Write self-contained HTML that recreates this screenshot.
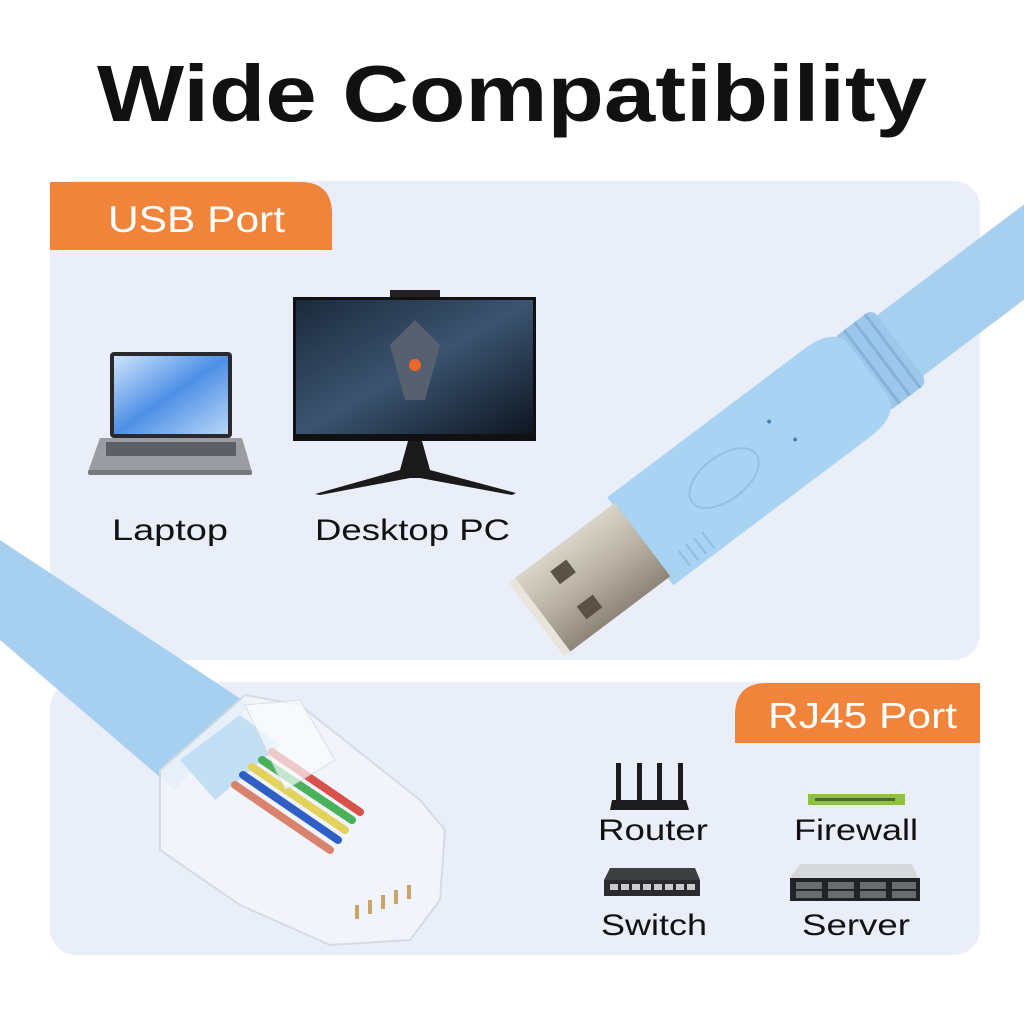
<!DOCTYPE html>
<html><head><meta charset="utf-8"><style>
html,body{margin:0;padding:0;background:#fff}
svg{display:block}
text{font-family:"Liberation Sans","DejaVu Sans",sans-serif}
</style></head><body>
<svg width="1024" height="1024" viewBox="0 0 1024 1024" xmlns="http://www.w3.org/2000/svg">
<defs>
<linearGradient id="metal" x1="0" y1="0" x2="0" y2="1">
<stop offset="0" stop-color="#d9d4c8"/><stop offset="0.5" stop-color="#b9b1a2"/><stop offset="1" stop-color="#8d8577"/>
</linearGradient>
<linearGradient id="scr" x1="0" y1="0" x2="1" y2="1">
<stop offset="0" stop-color="#1b2a3c"/><stop offset="0.5" stop-color="#3b5470"/><stop offset="1" stop-color="#0e1622"/>
</linearGradient>
<linearGradient id="lap" x1="0" y1="0" x2="1" y2="1">
<stop offset="0" stop-color="#cfe3fb"/><stop offset="0.5" stop-color="#4d8fe6"/><stop offset="1" stop-color="#b8d6f7"/>
</linearGradient>
</defs>
<rect width="1024" height="1024" fill="#fff"/>
<text x="512" y="121" text-anchor="middle" font-size="80" font-weight="bold" fill="#111" textLength="830" lengthAdjust="spacingAndGlyphs">Wide Compatibility</text>

<rect x="50" y="181" width="930" height="479" rx="26" fill="#eaeef8"/>
<rect x="50" y="682" width="930" height="273" rx="26" fill="#eaeef8"/>
<path d="M50 182 H300 Q332 182 332 214 V250 H50 Z" fill="#f0843a"/>
<text x="108" y="232" font-size="37" fill="#fff" textLength="177" lengthAdjust="spacingAndGlyphs">USB Port</text>
<path d="M980 683 V743 H735 V715 Q735 683 767 683 Z" fill="#f0843a"/>
<text x="768" y="728" font-size="36" fill="#fff" textLength="189" lengthAdjust="spacingAndGlyphs">RJ45 Port</text>

<rect x="110" y="352" width="122" height="86" rx="4" fill="#2a2a2e"/>
<rect x="114" y="356" width="114" height="78" fill="url(#lap)"/>
<path d="M100 438 H242 L252 472 H88 Z" fill="#9a9ca2"/>
<rect x="106" y="442" width="130" height="14" fill="#5d5f66"/>
<rect x="88" y="470" width="164" height="5" rx="2" fill="#76787e"/>
<text x="112" y="540" font-size="30" fill="#111" textLength="116" lengthAdjust="spacingAndGlyphs">Laptop</text>

<rect x="390" y="290" width="50" height="8" fill="#222"/>
<rect x="293" y="297" width="243" height="144" fill="#111"/>
<rect x="296" y="300" width="237" height="134" fill="url(#scr)"/>
<path d="M415 320 L440 345 L425 400 L405 400 L390 345 Z" fill="#57606e"/>
<circle cx="415" cy="365" r="6" fill="#e8692a"/>
<path d="M408 441 L400 470 L315 494 L320 495 L410 478 L420 478 L512 495 L516 493 L430 470 L422 441 Z" fill="#1a1a1a"/>
<text x="315" y="540" font-size="30" fill="#111" textLength="195" lengthAdjust="spacingAndGlyphs">Desktop PC</text>

<g transform="translate(772,442) rotate(-37)">
<rect x="150" y="-38" width="300" height="76" fill="#a6cff0"/>
<rect x="110" y="-46" width="50" height="92" rx="8" fill="#9cc7ea"/>
<line x1="125" y1="-46" x2="125" y2="46" stroke="#84b2d8" stroke-width="3"/>
<line x1="138" y1="-46" x2="138" y2="46" stroke="#84b2d8" stroke-width="3"/>
<line x1="151" y1="-46" x2="151" y2="46" stroke="#84b2d8" stroke-width="3"/>
<path d="M-165 -55 H80 Q120 -55 120 -30 V30 Q120 55 80 55 H-165 Z" fill="#a9d3f3"/>
<ellipse cx="-60" cy="0" rx="40" ry="22" fill="none" stroke="#93bfe3" stroke-width="2"/>
<circle cx="10" cy="-18" r="2" fill="#4a7fb0"/><circle cx="20" cy="12" r="2" fill="#4a7fb0"/>
<g stroke="#8fbde3" stroke-width="2">
<line x1="-140" y1="30" x2="-140" y2="50"/><line x1="-130" y1="30" x2="-130" y2="50"/><line x1="-120" y1="30" x2="-120" y2="50"/><line x1="-110" y1="30" x2="-110" y2="50"/>
</g>
<rect x="-290" y="-46" width="128" height="92" fill="url(#metal)"/>
<rect x="-295" y="-46" width="8" height="92" fill="#e8e4dc"/>
<rect x="-255" y="-30" width="20" height="16" fill="#5a5246"/>
<rect x="-255" y="14" width="20" height="16" fill="#5a5246"/>
</g>

<path d="M0 540 L250 705 L175 790 L0 640 Z" fill="#a6cff0"/>
<path d="M160 770 L245 695 L300 705 L420 800 L445 830 L440 900 L410 940 L330 945 L240 905 L160 850 Z" fill="#f3f6fb" opacity="0.85" stroke="#d2d8e2" stroke-width="2"/>
<path d="M180 760 L240 715 L280 745 L215 800 Z" fill="#b8daf3" opacity="0.8"/>
<g stroke-width="8" stroke-linecap="round" fill="none">
<path d="M235 785 L330 850" stroke="#d9826e"/>
<path d="M243 775 L338 840" stroke="#2f5fc4"/>
<path d="M252 767 L345 830" stroke="#e3d35a"/>
<path d="M262 760 L352 820" stroke="#49b15a"/>
<path d="M272 752 L360 812" stroke="#d8514a"/>
</g>
<path d="M245 705 L300 700 L335 760 L285 790 Z" fill="#fafcff" opacity="0.7" stroke="#cfd6e0"/>
<g fill="#c9a46a"><rect x="355" y="905" width="4" height="14"/><rect x="368" y="900" width="4" height="14"/><rect x="381" y="895" width="4" height="14"/><rect x="394" y="890" width="4" height="14"/><rect x="407" y="885" width="4" height="14"/></g>

<g fill="#1c1c1e">
<rect x="616" y="763" width="5" height="38"/><rect x="637" y="763" width="5" height="38"/><rect x="657" y="763" width="5" height="38"/><rect x="678" y="763" width="5" height="38"/>
<path d="M612 800 H686 L689 810 H610 Z"/>
</g>
<text x="598" y="840" font-size="30" fill="#111" textLength="110" lengthAdjust="spacingAndGlyphs">Router</text>
<rect x="808" y="794" width="97" height="11" fill="#8fc13a"/>
<rect x="815" y="798" width="80" height="3" fill="#4c6b1e"/>
<text x="794" y="840" font-size="30" fill="#111" textLength="124" lengthAdjust="spacingAndGlyphs">Firewall</text>
<path d="M610 868 H695 L700 880 H604 Z" fill="#3e3f43"/>
<rect x="604" y="880" width="96" height="16" fill="#2a2b2e"/>
<g fill="#ccc"><rect x="610" y="884" width="8" height="6"/><rect x="621" y="884" width="8" height="6"/><rect x="632" y="884" width="8" height="6"/><rect x="643" y="884" width="8" height="6"/><rect x="654" y="884" width="8" height="6"/><rect x="665" y="884" width="8" height="6"/><rect x="676" y="884" width="8" height="6"/><rect x="687" y="884" width="8" height="6"/></g>
<text x="601" y="935" font-size="30" fill="#111" textLength="106" lengthAdjust="spacingAndGlyphs">Switch</text>
<path d="M800 864 H912 L918 878 H790 Z" fill="#d6d8dc"/>
<rect x="790" y="878" width="130" height="23" fill="#222326"/>
<g fill="#6a6c70"><rect x="796" y="882" width="26" height="7"/><rect x="828" y="882" width="26" height="7"/><rect x="860" y="882" width="26" height="7"/><rect x="892" y="882" width="24" height="7"/><rect x="796" y="891" width="26" height="7"/><rect x="828" y="891" width="26" height="7"/><rect x="860" y="891" width="26" height="7"/><rect x="892" y="891" width="24" height="7"/></g>
<text x="802" y="935" font-size="30" fill="#111" textLength="108" lengthAdjust="spacingAndGlyphs">Server</text>
</svg>
</body></html>
